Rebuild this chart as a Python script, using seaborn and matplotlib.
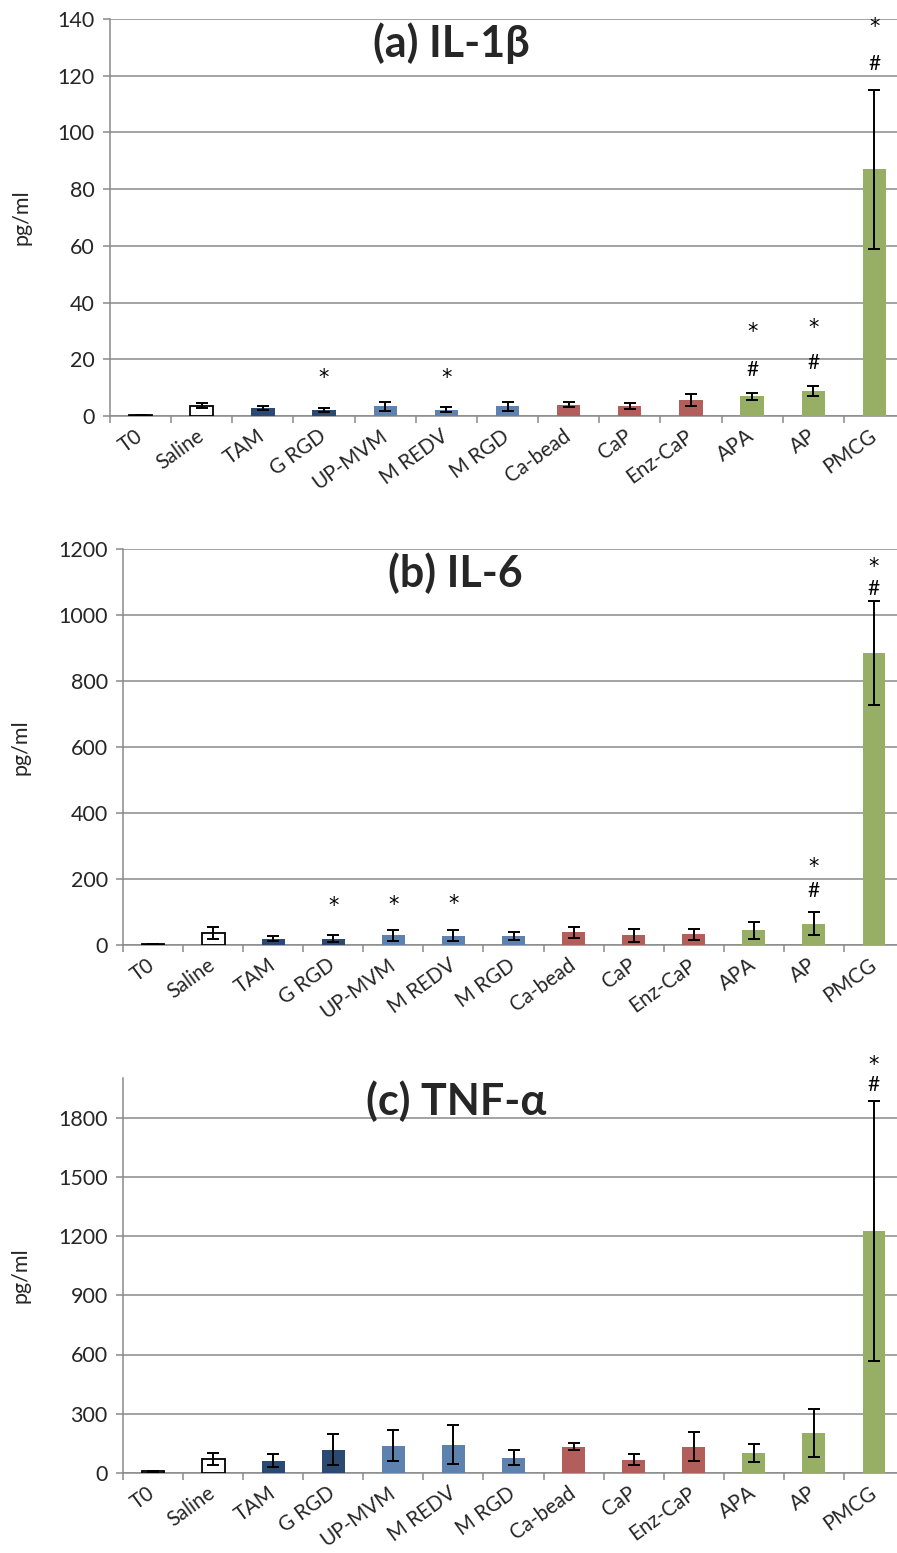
import matplotlib
matplotlib.use("Agg")
import matplotlib.pyplot as plt
import pandas as pd
import seaborn as sns

categories = ["T0", "Saline", "TAM", "G RGD", "UP-MVM", "M REDV", "M RGD",
              "Ca-bead", "CaP", "Enz-CaP", "APA", "AP", "PMCG"]
groups = ["control", "saline", "dark", "dark", "light", "light", "light",
          "red", "red", "red", "green", "green", "green"]

il1b_mean = [0.3, 3.7, 2.8, 2.1, 3.5, 2.2, 3.4, 3.9, 3.5, 5.6, 7.0, 8.8, 87.0]
il1b_err = [0.1, 0.9, 0.8, 0.8, 1.6, 0.9, 1.6, 0.9, 1.1, 2.1, 1.2, 1.8, 28.0]
il6_mean = [3, 36, 19, 19, 29, 28, 28, 38, 29, 32, 44, 65, 885]
il6_err = [1, 18, 8, 11, 17, 16, 12, 18, 19, 16, 25, 36, 158]
tnf_mean = [8, 71, 62, 118, 138, 143, 78, 133, 67, 133, 103, 204, 1225]
tnf_err = [2, 29, 34, 77, 79, 98, 36, 19, 28, 74, 46, 122, 660]

# significance symbols: (group, symbol, height in pg/ml)
il1b_marks = [("G RGD", "*", 13.3), ("M REDV", "*", 13.3),
              ("APA", "#", 16.1), ("APA", "*", 29.5),
              ("AP", "#", 18.6), ("AP", "*", 30.9),
              ("PMCG", "#", 124.2), ("PMCG", "*", 137.2)]
il6_marks = [("G RGD", "*", 118), ("UP-MVM", "*", 121), ("M REDV", "*", 124),
             ("AP", "#", 164), ("AP", "*", 236),
             ("PMCG", "#", 1079), ("PMCG", "*", 1145)]
tnf_marks = [("PMCG", "#", 1965), ("PMCG", "*", 2066)]

titles = ["(a) IL-1β", "(b) IL-6", "(c) TNF-α"]
y_limits = [(0, 140), (0, 1200), (0, 2000)]
y_ticks = [list(range(0, 141, 20)), list(range(0, 1201, 200)), list(range(0, 1801, 300))]

group_colors = {"control": "white", "saline": "white", "dark": "#1F497D",
                "light": "#4F81BD", "red": "#C0504D", "green": "#9BBB59"}

sns.set_theme(style="white")
plt.rcParams["font.family"] = ["Lato", "DejaVu Sans"]

GRAY = "#8a8a8a"

fig = plt.figure(figsize=(8.97, 15.53), dpi=100)
W, H = 897.0, 1553.0
# axes boxes in pixels: left, right, top, bottom
boxes = [(110, 905, 19, 416), (123, 904, 549, 945), (123, 904, 1078, 1473)]

panels = [(il1b_mean, il1b_err, il1b_marks),
          (il6_mean, il6_err, il6_marks),
          (tnf_mean, tnf_err, tnf_marks)]

palette = {c: group_colors[g] for c, g in zip(categories, groups)}

for i, ((mean, err, marks), (l, r, t, b)) in enumerate(zip(panels, boxes)):
    ax = fig.add_axes([l / W, 1 - b / H, (r - l) / W, (b - t) / H])
    df = pd.DataFrame({"group": categories, "value": mean, "err": err})
    sns.barplot(data=df, x="group", y="value", hue="group", palette=palette,
                legend=False, width=0.38, errorbar=None, ax=ax,
                linewidth=0, zorder=3)
    for patch, g in zip(ax.patches, groups):
        if g in ("control", "saline"):
            patch.set_edgecolor("black")
            patch.set_linewidth(1.3)
    ax.errorbar(range(len(categories)), df["value"], yerr=df["err"], fmt="none",
                ecolor="black", elinewidth=1.4, capsize=4, capthick=1.4, zorder=4)

    pos = {c: k for k, c in enumerate(categories)}
    for cat, sym, yv in marks:
        if sym == "*":
            ax.text(pos[cat], yv, sym, ha="center", va="center", fontsize=15,
                    family="DejaVu Sans", color="black", clip_on=False, zorder=5)
        else:
            ax.text(pos[cat], yv, sym, ha="center", va="center", fontsize=15,
                    color="black", clip_on=False, zorder=5)

    ax.set_xlim(-0.5, len(categories) - 0.5)
    ax.set_ylim(*y_limits[i])
    ax.set_yticks(y_ticks[i])
    ax.yaxis.grid(True, color=GRAY, linewidth=1.1, zorder=0)
    ax.xaxis.grid(False)
    ax.set_axisbelow(True)
    for s in ("top", "right"):
        ax.spines[s].set_visible(False)
    for s in ("left", "bottom"):
        ax.spines[s].set_color(GRAY)
        ax.spines[s].set_linewidth(1.1)

    ax.tick_params(axis="y", which="major", direction="out", length=5,
                   width=1.1, color=GRAY, labelsize=15.5, pad=6, left=True)
    ax.set_xticks(range(len(categories)))
    ax.set_xticks([k - 0.5 for k in range(len(categories) + 1)], minor=True)
    ax.tick_params(axis="x", which="major", length=0, pad=13)
    ax.tick_params(axis="x", which="minor", direction="out", length=5,
                   width=1.1, color=GRAY, bottom=True)
    ax.set_xticklabels(categories, rotation=36, ha="right",
                       rotation_mode="anchor", fontsize=14.8)
    for lab in ax.get_xticklabels():
        lab.set_va("center")

    ax.set_xlabel("")
    ax.set_ylabel("pg/ml", fontsize=15.5)
    ax.yaxis.set_label_coords((31 - l) / (r - l), 0.5)

    ax.text(0.43 if i == 0 else 0.426, 0.94, titles[i], transform=ax.transAxes,
            ha="center", va="center", fontsize=31, fontweight="bold")

fig.savefig("out.png", dpi=100)
